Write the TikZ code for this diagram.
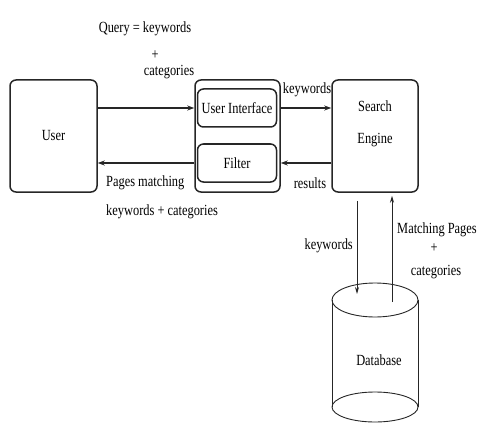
\documentclass[tikz,border=0pt]{standalone}
\usepackage{fontspec}
\setmainfont{Liberation Serif}[FakeStretch=0.8]
\usetikzlibrary{
  arrows.meta,
  positioning,
  calc
}

\begin{document}
\begin{tikzpicture}[x=1pt, y=-1pt, font=\fontsize{15.5}{17}\selectfont,
    box/.style={draw=black!85, rounded corners=6pt, line width=1.5pt, inner sep=0pt},
    flow/.style={-{Stealth[length=7pt, width=5pt]}, line width=1.4pt, black!85},
    vflow/.style={-{Stealth[length=7pt, width=4pt]}, line width=0.9pt, black!85},
    lbl/.style={inner sep=0pt}]
    \useasboundingbox (0,0) rectangle (479,433);

    % User
    \node[box, minimum width=87pt, minimum height=112pt] (user) at (53.5,136) {User};

    % Interface e Filter
    \node[box, minimum width=85pt, minimum height=112pt] (front) at (237.5,136) {};
    \node[box, minimum width=79pt, minimum height=38pt] (ui) at (237,108) {User Interface};
    \node[box, minimum width=79pt, minimum height=38pt] (filter) at (237,163) {Filter};

    % Search Engine
    \node[box, minimum width=86pt, minimum height=112pt] (se) at (375,136) {};
    \node[lbl, align=center, font=\fontsize{15.5}{32}\selectfont] (setext) at (375,124) {Search\\Engine};

    % Database
    \coordinate (dbtop) at (375,300);
    \coordinate (dbbot) at (375,407);
    \draw[line width=0.9pt, black!85] (dbtop) ellipse [x radius=43pt, y radius=17pt];
    \draw[line width=0.9pt, black!85] (dbbot) ellipse [x radius=43pt, y radius=15pt];
    \draw[line width=0.9pt, black!85] ($(dbtop)+(-43,0)$) -- ($(dbbot)+(-43,0)$);
    \draw[line width=0.9pt, black!85] ($(dbtop)+(43,0)$) -- ($(dbbot)+(43,0)$);
    \node[lbl] (db) at (379,360) {Database};

    % Arrows
    \draw[flow] (user.east |- ui) -- (front.west |- ui);
    \draw[flow] (front.west |- filter) -- (user.east |- filter);
    \draw[flow] (front.east |- ui) -- (se.west |- ui);
    \draw[flow] (se.west |- filter) -- (front.east |- filter);
    \draw[vflow] ($(se.south)+(-18,8)$) -- ($(dbtop)+(-18,-6)$);
    \draw[vflow] ($(dbtop)+(17,2)$) -- ($(se.south)+(17,3)$);

    % Labels
    \node[lbl] (query) at (145,29) {Query = keywords};
    \node[lbl] (qplus) at (155,55) {+};
    \node[lbl] (qcat) at (169,72) {categories};
    \node[lbl, anchor=west] (pages) at (106,183) {Pages matching};
    \node[lbl, anchor=west] (pagescat) at (106,212) {keywords + categories};
    \node[lbl] (kwtop) at (307,90) {keywords};
    \node[lbl] (res) at (310,183) {results};
    \node[lbl, anchor=east] (kwdown) at (353,246) {keywords};
    \node[lbl] (match) at (437,230) {Matching Pages};
    \node[lbl] (mplus) at (434,248) {+};
    \node[lbl] (mcat) at (436,272) {categories};
\end{tikzpicture}
\end{document}
